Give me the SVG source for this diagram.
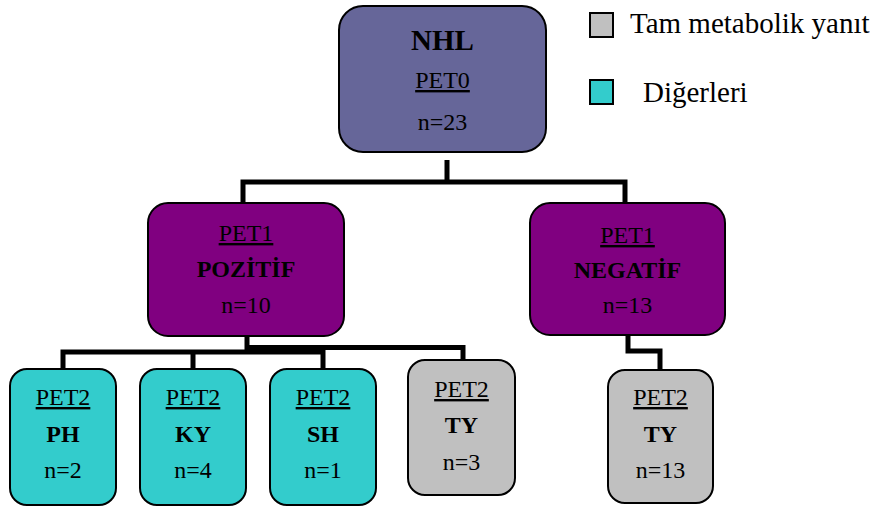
<svg xmlns="http://www.w3.org/2000/svg" width="885" height="506" viewBox="0 0 885 506">
<style>
.box{stroke:#000;stroke-width:2}
.conn{fill:none;stroke:#000;stroke-width:5;stroke-linejoin:miter}
</style>
<rect width="885" height="506" fill="#fff"/>
<g id="connectors">
<path class="conn" d="M447,160 V182 M243,203 V182 H625 V203"/>
<path class="conn" d="M63,369 V352 H323 V369 M193,352 V369"/>
<path class="conn" d="M247,336 V347.5 H463 V360"/>
<path class="conn" d="M628,335 V351 H660 V370"/>
</g>
<g id="nhl" font-family="'Liberation Serif', 'Times New Roman', serif" text-anchor="middle" fill="#000">
<rect class="box" x="339" y="6" width="207" height="146" rx="24" fill="#666699"/>
<text x="442.5" y="50" style="font-size:29px;font-weight:bold">NHL</text>
<text x="442.5" y="88" style="font-size:24px;text-decoration:underline">PET0</text>
<text x="442.5" y="130" style="font-size:24px">n=23</text>
</g>
<g id="pozitif" font-family="'Liberation Serif', 'Times New Roman', serif" text-anchor="middle" fill="#000">
<rect class="box" x="148" y="203" width="196" height="133" rx="20" fill="#800080"/>
<text x="246" y="241" style="font-size:24px;text-decoration:underline">PET1</text>
<text x="246" y="277" style="font-size:24px;font-weight:bold">POZİTİF</text>
<text x="246" y="313" style="font-size:24px">n=10</text>
</g>
<g id="negatif" font-family="'Liberation Serif', 'Times New Roman', serif" text-anchor="middle" fill="#000">
<rect class="box" x="530" y="203" width="195" height="132" rx="20" fill="#800080"/>
<text x="627.5" y="243" style="font-size:24px;text-decoration:underline">PET1</text>
<text x="627.5" y="278" style="font-size:24px;font-weight:bold">NEGATİF</text>
<text x="627.5" y="313" style="font-size:24px">n=13</text>
</g>
<g id="ph" font-family="'Liberation Serif', 'Times New Roman', serif" text-anchor="middle" fill="#000">
<rect class="box" x="10" y="369" width="106" height="136" rx="17" fill="#33CCCC"/>
<text x="63" y="405" style="font-size:24px;text-decoration:underline">PET2</text>
<text x="63" y="442" style="font-size:24px;font-weight:bold">PH</text>
<text x="63" y="478" style="font-size:24px">n=2</text>
</g>
<g id="ky" font-family="'Liberation Serif', 'Times New Roman', serif" text-anchor="middle" fill="#000">
<rect class="box" x="140" y="369" width="106" height="136" rx="17" fill="#33CCCC"/>
<text x="193" y="405" style="font-size:24px;text-decoration:underline">PET2</text>
<text x="193" y="442" style="font-size:24px;font-weight:bold">KY</text>
<text x="193" y="478" style="font-size:24px">n=4</text>
</g>
<g id="sh" font-family="'Liberation Serif', 'Times New Roman', serif" text-anchor="middle" fill="#000">
<rect class="box" x="270" y="369" width="106" height="136" rx="17" fill="#33CCCC"/>
<text x="323" y="405" style="font-size:24px;text-decoration:underline">PET2</text>
<text x="323" y="442" style="font-size:24px;font-weight:bold">SH</text>
<text x="323" y="478" style="font-size:24px">n=1</text>
</g>
<g id="ty1" font-family="'Liberation Serif', 'Times New Roman', serif" text-anchor="middle" fill="#000">
<rect class="box" x="408" y="360" width="107" height="135" rx="17" fill="#C0C0C0"/>
<text x="461.5" y="397" style="font-size:24px;text-decoration:underline">PET2</text>
<text x="461.5" y="433" style="font-size:24px;font-weight:bold">TY</text>
<text x="461.5" y="470" style="font-size:24px">n=3</text>
</g>
<g id="ty2" font-family="'Liberation Serif', 'Times New Roman', serif" text-anchor="middle" fill="#000">
<rect class="box" x="608" y="370" width="105" height="133" rx="17" fill="#C0C0C0"/>
<text x="660.5" y="405" style="font-size:24px;text-decoration:underline">PET2</text>
<text x="660.5" y="442" style="font-size:24px;font-weight:bold">TY</text>
<text x="660.5" y="478" style="font-size:24px">n=13</text>
</g>
<g id="legend" font-family="'Liberation Serif', 'Times New Roman', serif" fill="#000">
<rect x="590" y="13" width="23" height="24" fill="#C0C0C0" stroke="#000" stroke-width="2"/>
<text x="630" y="33" style="font-size:29px">Tam metabolik yanıt</text>
<rect x="590" y="80" width="23" height="24" fill="#33CCCC" stroke="#000" stroke-width="2"/>
<text x="643" y="102" style="font-size:29px">Diğerleri</text>
</g>
</svg>
